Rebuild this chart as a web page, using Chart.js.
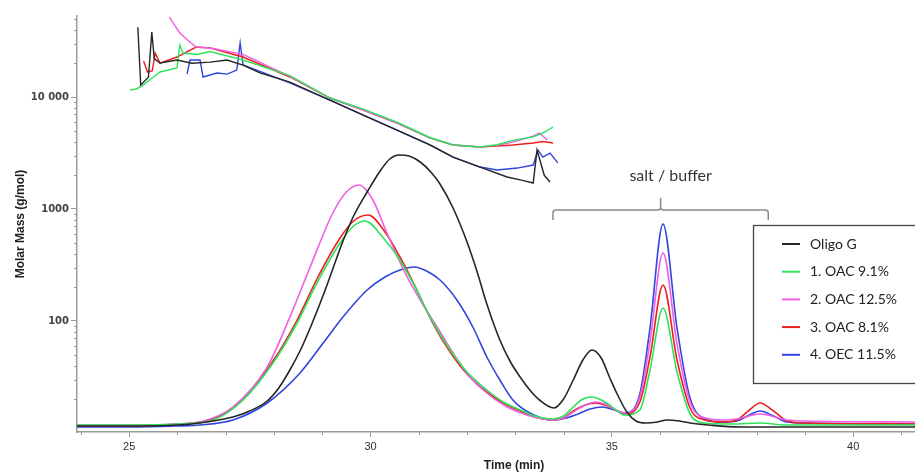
<!DOCTYPE html>
<html>
<head>
<meta charset="utf-8">
<script src="https://cdn.jsdelivr.net/npm/chart.js@4.4.1/dist/chart.umd.min.js"></script>
<style>
html,body{margin:0;padding:0;background:#fff;}
#wrap{width:915px;height:473px;}
</style>
</head>
<body>
<div id="wrap"><canvas id="mmChart" width="915" height="473"></canvas></div>
<script>

var sampleNames=['Oligo G','1. OAC 9.1%','2. OAC 12.5%','3. OAC 8.1%','4. OEC 11.5%'];
var sampleColors=['#262626','#2ee35c','#ee5ee4','#ec1e1e','#2f45dd'];

// molar mass (g/mol) against time (min)
var massOligoG=[[25.18,42000],[25.24,12800],[25.40,15000],[25.47,38000],[25.52,22000],[25.64,20100],[25.99,21400],[26.30,20000],[26.68,20500],[27.03,21400],[27.36,19300],[27.71,16400],[28.33,13600],[29.16,9400],[29.85,6900],[30.55,5070],[31.23,3730],[31.71,2910],[32.27,2370],[32.83,1930],[33.15,1800],[33.37,1706],[33.45,3360],[33.60,2000],[33.72,1740]];
var massOAC91=[[25.02,11550],[25.15,11800],[25.29,12790],[25.45,14500],[25.64,16720],[25.99,18150],[26.05,29000],[26.12,24700],[26.40,24000],[26.68,25500],[27.36,21400],[28.33,15500],[29.16,9800],[29.85,7800],[30.55,5950],[31.23,4350],[31.71,3730],[32.27,3580],[32.62,3750],[32.95,4100],[33.37,4400],[33.57,4770],[33.78,5400]];
var massOAC125=[[25.83,51800],[26.05,37300],[26.26,31000],[26.39,27950],[26.68,27400],[27.36,24000],[28.33,15300],[29.16,9800],[29.85,7660],[30.55,5860],[31.23,4310],[31.71,3730],[32.27,3580],[32.62,3700],[32.95,3960],[33.37,4470],[33.50,4770],[33.66,4130]];
var massOAC81=[[25.30,21000],[25.38,16700],[25.48,17200],[25.54,24700],[25.64,20100],[25.99,22760],[26.39,27950],[26.68,27400],[27.36,22760],[28.33,15090],[29.16,9800],[29.85,7660],[30.55,5860],[31.23,4310],[31.71,3730],[32.27,3580],[32.62,3650],[32.95,3730],[33.37,3880],[33.57,4000],[33.78,3880]];
var massOEC115=[[26.20,16000],[26.26,21400],[26.47,21400],[26.53,15090],[26.82,16380],[27.03,16000],[27.23,17420],[27.30,30400],[27.36,19320],[28.33,13400],[29.16,9400],[29.85,6900],[30.55,5070],[31.23,3730],[31.71,2910],[32.27,2370],[32.62,2230],[33.04,2320],[33.37,2470],[33.47,3360],[33.57,2910],[33.72,3160],[33.88,2580]];

// detector signal (arbitrary units, hidden right axis)
var sigOligoG=[[23.92,6],[25.0,6],[26.0,7],[26.47,9],[27.15,15],[27.50,21],[27.86,31],[28.10,44],[28.33,62],[28.55,82],[28.75,104],[28.95,128],[29.10,147],[29.30,174],[29.43,191],[29.65,216],[29.93,240],[30.20,261],[30.40,273],[30.60,277],[30.80,276],[31.03,270],[31.25,260],[31.44,248],[31.71,224],[32.00,190],[32.21,160],[32.41,128],[32.68,92],[32.90,70],[33.10,55],[33.30,42],[33.50,32],[33.80,24],[34.00,33],[34.20,52],[34.40,72],[34.59,82],[34.78,74],[34.95,55],[35.11,38],[35.31,20],[35.50,11],[35.70,9],[35.95,10],[36.14,12],[36.40,11],[36.62,9],[37.00,7],[37.66,5],[41.3,5]];
var sigOAC91=[[23.92,7],[25.0,7],[26.0,8],[26.74,12],[27.36,32],[27.98,69],[28.48,109],[28.89,149],[29.37,189],[29.65,206],[29.89,211],[30.25,195],[30.61,172],[30.88,149],[31.30,109],[31.65,82],[32.00,60],[32.41,42],[32.75,30],[33.10,22],[33.40,16],[33.78,13],[34.00,16],[34.20,25],[34.40,33],[34.59,35],[34.78,32],[34.95,27],[35.27,17],[35.58,22],[35.79,62],[36.06,124],[36.35,60],[36.62,18],[36.93,9],[37.5,8],[38.07,9],[38.6,7],[41.3,7]];
var sigOAC125=[[23.92,7],[25.0,7],[26.0,8],[26.47,10],[27.15,25],[27.86,65],[28.33,115],[28.75,165],[29.22,219],[29.50,240],[29.76,247],[30.05,232],[30.34,199],[30.76,155],[31.03,132],[31.38,105],[31.71,79],[32.06,55],[32.41,39],[32.83,25],[33.24,17],[33.78,12],[34.00,14],[34.20,20],[34.45,27],[34.66,30],[34.85,28],[35.00,24],[35.27,19],[35.58,35],[35.79,90],[36.06,179],[36.35,88],[36.62,30],[36.93,14],[37.30,12],[37.59,13],[38.07,18],[38.63,12],[39.0,11],[41.3,10]];
var sigOAC81=[[23.92,6],[25.0,6],[26.0,8],[26.74,13],[27.36,33],[27.98,71],[28.48,112],[28.89,153],[29.37,194],[29.65,211],[29.95,217],[30.30,200],[30.61,175],[30.88,150],[31.30,108],[31.65,80],[32.00,58],[32.41,40],[32.75,29],[33.10,21],[33.40,15],[33.78,12],[34.00,14],[34.20,21],[34.45,27],[34.66,29],[34.85,27],[35.00,24],[35.27,18],[35.58,30],[35.79,75],[36.06,147],[36.35,72],[36.62,24],[36.93,12],[37.30,10],[37.59,12],[37.85,22],[38.07,29],[38.35,21],[38.63,11],[39.0,9],[41.3,8]];
var sigOEC115=[[23.92,5],[25.0,5],[26.0,6],[26.47,7],[27.15,12],[27.86,29],[28.54,59],[29.02,89],[29.43,115],[29.93,142],[30.30,155],[30.61,162],[30.90,165],[31.20,160],[31.44,152],[31.79,132],[32.12,105],[32.41,75],[32.68,52],[32.95,32],[33.30,19],[33.78,12],[34.05,14],[34.30,18],[34.55,23],[34.80,25],[35.05,22],[35.27,19],[35.58,38],[35.79,104],[36.06,208],[36.35,104],[36.62,34],[36.93,13],[37.30,10],[37.59,11],[37.85,17],[38.07,21],[38.35,16],[38.63,10],[39.0,9],[41.3,8]];

var xTicks=[25,30,35,40];
var yTicks=[100,1000,10000];
var saltRange=[33.78,38.24]; // bracket "salt / buffer"

var massSets=[massOligoG,massOAC91,massOAC125,massOAC81,massOEC115];
var sigSets=[sigOligoG,sigOAC91,sigOAC125,sigOAC81,sigOEC115];

function toXY(arr){
	var out=[];
	for(var i=0;i<arr.length;i++){
		out.push({x:arr[i][0],y:arr[i][1]});
	}
	return out;
}

var datasets=[];
for(var i=0;i<sampleNames.length;i++){
	datasets.push({
		label:sampleNames[i],
		data:toXY(sigSets[i]),
		yAxisID:'y2',
		borderColor:sampleColors[i],
		borderWidth:1.6,
		pointRadius:0,
		cubicInterpolationMode:'monotone',
		fill:false
	});
}
for(var i=0;i<sampleNames.length;i++){
	datasets.push({
		label:sampleNames[i]+' mass',
		data:toXY(massSets[i]),
		yAxisID:'y',
		borderColor:sampleColors[i],
		borderWidth:1.4,
		pointRadius:0,
		tension:0,
		fill:false
	});
}

// minor ticks, x title, bracket and the legend box
var extras={
	id:'extras',
	afterDraw:function(chart){
		var c=chart.ctx;
		var xs=chart.scales.x, ys=chart.scales.y;
		var ca=chart.chartArea;
		c.save();
		c.strokeStyle='#999';
		c.lineWidth=1;
		for(var t=24;t<=41;t++){
			if(t%5==0) continue;
			var px=Math.round(xs.getPixelForValue(t))+0.5;
			c.beginPath();c.moveTo(px,ca.bottom);c.lineTo(px,ca.bottom+3);c.stroke();
		}
		var dec=[10,100,1000,10000];
		for(var d=0;d<dec.length;d++){
			for(var m=2;m<=9;m++){
				var v=dec[d]*m;
				if(v<ys.min||v>ys.max) continue;
				var py=Math.round(ys.getPixelForValue(v))+0.5;
				c.beginPath();c.moveTo(ca.left-3,py);c.lineTo(ca.left,py);c.stroke();
			}
		}
		// x title
		c.fillStyle='#222';
		c.font='bold 12px "Liberation Sans", Arial, sans-serif';
		c.textAlign='center';
		c.textBaseline='middle';
		c.fillText('Time (min)',514,466);

		// bracket
		var bl=xs.getPixelForValue(saltRange[0]);
		var br=xs.getPixelForValue(saltRange[1]);
		var bm=(bl+br)/2;
		c.strokeStyle='#8a8a8a';
		c.lineWidth=1.5;
		c.beginPath();
		c.moveTo(bl,220);c.lineTo(bl,213);c.quadraticCurveTo(bl,210,bl+3,210);
		c.lineTo(bm-3,210);c.quadraticCurveTo(bm,210,bm,207);c.lineTo(bm,198);
		c.moveTo(bm,207);c.quadraticCurveTo(bm,210,bm+3,210);
		c.lineTo(br-3,210);c.quadraticCurveTo(br,210,br,213);c.lineTo(br,220);
		c.stroke();
		c.fillStyle='#333';
		c.font='16px Lato, "Open Sans", sans-serif';
		c.textAlign='center';
		c.textBaseline='alphabetic';
		c.fillText('salt / buffer',bm+10,181);

		// legend
		c.fillStyle='#fff';
		c.fillRect(753,225,175,158);
		c.strokeStyle='#444';
		c.lineWidth=1.3;
		c.strokeRect(753.5,225.5,175,158);
		c.font='14px Lato, "Open Sans", sans-serif';
		c.textAlign='left';
		c.textBaseline='middle';
		for(var i=0;i<sampleNames.length;i++){
			var ry=244+i*27.7;
			c.strokeStyle=sampleColors[i];
			c.lineWidth=2;
			c.beginPath();c.moveTo(782,ry);c.lineTo(800,ry);c.stroke();
			c.fillStyle='#222';
			c.fillText(sampleNames[i],810,ry);
		}
		c.restore();
	}
};

var ctx=document.getElementById('mmChart').getContext('2d');
var myChart=new Chart(ctx,{
	type:'line',
	data:{datasets:datasets},
	options:{
		responsive:false,
		animation:false,
		devicePixelRatio:1,
		layout:{padding:{top:16,right:0,left:0,bottom:0}},
		plugins:{legend:{display:false},tooltip:{enabled:false}},
		scales:{
			x:{
				type:'linear',
				min:23.92,
				max:41.28,
				afterBuildTicks:function(scale){scale.ticks=xTicks.map(function(v){return {value:v};});},
				afterFit:function(scale){scale.height=41;},
				grid:{drawOnChartArea:false,drawTicks:true,tickLength:5,color:'#999'},
				border:{color:'#999',width:1.5},
				ticks:{padding:3,color:'#333',font:{family:'"Liberation Sans", Arial, sans-serif',size:11},maxRotation:0}
			},
			y:{
				type:'logarithmic',
				min:10.2,
				max:52900,
				afterBuildTicks:function(scale){scale.ticks=yTicks.map(function(v){return {value:v};});},
				afterFit:function(scale){scale.width=77;},
				grid:{drawOnChartArea:false,drawTicks:true,tickLength:6,color:'#999'},
				border:{color:'#999',width:1.5},
				ticks:{
					padding:2,
					color:'#444',
					font:{family:'"DejaVu Sans", sans-serif',size:10,weight:'bold'},
					callback:function(v){return v==10000?'10 000':String(v);}
				},
				title:{
					display:true,
					text:'Molar Mass (g/mol)',
					color:'#222',
					font:{family:'"Liberation Sans", Arial, sans-serif',size:12,weight:'bold'},
					padding:{top:13,bottom:0}
				}
			},
			y2:{
				type:'linear',
				display:false,
				min:0,
				max:416
			}
		}
	},
	plugins:[extras]
});
</script>
</body>
</html>
